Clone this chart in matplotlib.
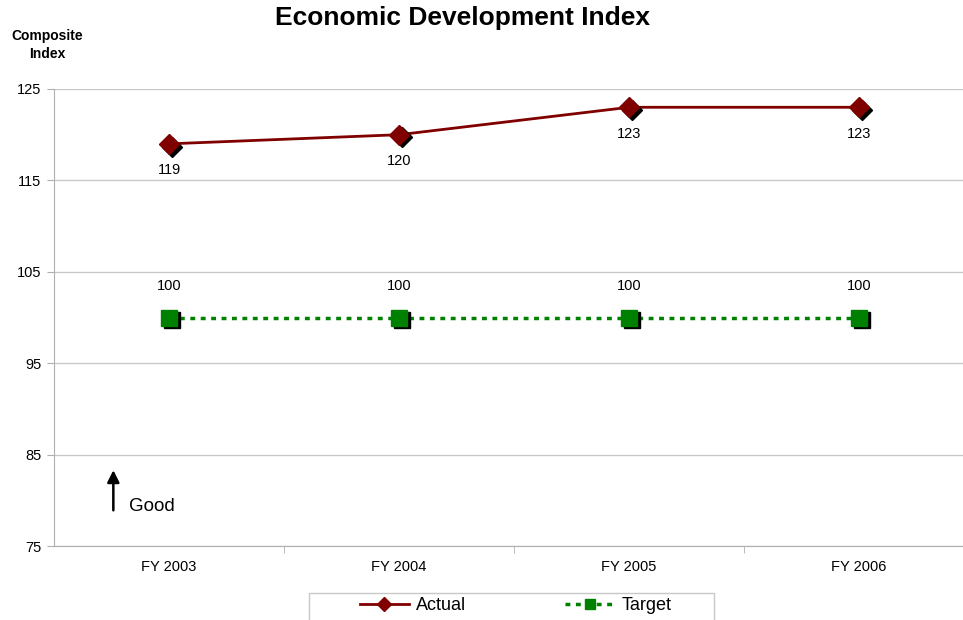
import matplotlib.pyplot as plt
import matplotlib.transforms as mtransforms
from matplotlib.lines import Line2D
from matplotlib.patches import Rectangle

plt.rcParams['font.family'] = ['Liberation Sans', 'DejaVu Sans']

years = ['FY 2003', 'FY 2004', 'FY 2005', 'FY 2006']
actual = [119, 120, 123, 123]
target = [100, 100, 100, 100]
yticks = [75, 85, 95, 105, 115, 125]

red = '#800000'
green = '#008000'
W, H = 963, 620

fig = plt.figure(figsize=(W / 100, H / 100), dpi=100)
ax = fig.add_axes([54 / W, 1 - 546 / H, 920 / W, 457 / H])
x = list(range(len(years)))

# lines first, then marker shadows, then markers on top
ax.plot(x, actual, color=red, lw=2, zorder=3)
ax.plot(x, target, color=green, lw=2.5, ls=(0, (1.4, 1.6)), zorder=3)

shadow = mtransforms.offset_copy(ax.transData, fig=fig, x=2, y=-2, units='points')
ax.plot(x, actual, ls='none', marker='D', ms=10, color='black', transform=shadow, zorder=4)
ax.plot(x, target, ls='none', marker='s', ms=11, color='black', transform=shadow, zorder=4)
ax.plot(x, actual, ls='none', marker='D', ms=10, color=red, zorder=5)
ax.plot(x, target, ls='none', marker='s', ms=11, color=green, zorder=5)

for xi, v in zip(x, actual):
    ax.annotate(str(v), (xi, v), xytext=(0, -19), textcoords='offset points',
                ha='center', va='center', fontsize=10.5)
for xi, v in zip(x, target):
    ax.annotate(str(v), (xi, v), xytext=(0, 23), textcoords='offset points',
                ha='center', va='center', fontsize=10.5)

ax.set_xlim(-0.5, 3.5)
ax.set_ylim(75, 125)
ax.set_yticks(yticks)
ax.set_yticklabels([str(t) for t in yticks], fontsize=10.5)
ax.set_xticks(x)
ax.set_xticklabels(years, fontsize=10.5)
ax.tick_params(axis='x', length=0, pad=10)
ax.set_xticks([0.5, 1.5, 2.5], minor=True)
ax.tick_params(axis='x', which='minor', length=5, color='#b0b0b0', direction='out')
ax.tick_params(axis='y', length=5, color='#b0b0b0', pad=4)
ax.yaxis.grid(True, color='#c8c8c8', lw=1)
ax.set_axisbelow(True)
for s in ['top', 'right']:
    ax.spines[s].set_visible(False)
for s in ['left', 'bottom']:
    ax.spines[s].set_color('#b0b0b0')

# "Good" direction arrow
ax.annotate('', xy=(-0.242, 83.6), xytext=(-0.242, 78.6),
            arrowprops=dict(arrowstyle='-|>', color='black', lw=1.8, mutation_scale=18))
ax.text(-0.176, 79.3, 'Good', fontsize=13.5, va='center', ha='left')

fig.text(462 / W, 1 - 18 / H, 'Economic Development Index', ha='center', va='center',
         fontsize=19, fontweight='heavy')
fig.text(47 / W, 1 - 45 / H, 'Composite\nIndex', ha='center', va='center',
         fontsize=10, fontweight='bold', linespacing=1.45)

# legend box runs off the bottom edge, so draw the frame separately
fig.patches.append(Rectangle((309 / W, -0.02), 405 / W, 0.02 + 27 / H,
                             transform=fig.transFigure, fill=False,
                             edgecolor='#c8c8c8', lw=1))
handles = [Line2D([], [], color=red, lw=2, marker='D', ms=7),
           Line2D([], [], color=green, lw=2.5, ls=(0, (1.4, 1.6)), marker='s', ms=7)]
fig.legend(handles, ['Actual', 'Target'], loc='center left',
           bbox_to_anchor=(360 / W, 1 - 606 / H), ncol=2, fontsize=13,
           frameon=False, columnspacing=5.5, handlelength=2.7,
           handletextpad=0.4, borderpad=0, borderaxespad=0)

fig.savefig('out.png', dpi=100)
